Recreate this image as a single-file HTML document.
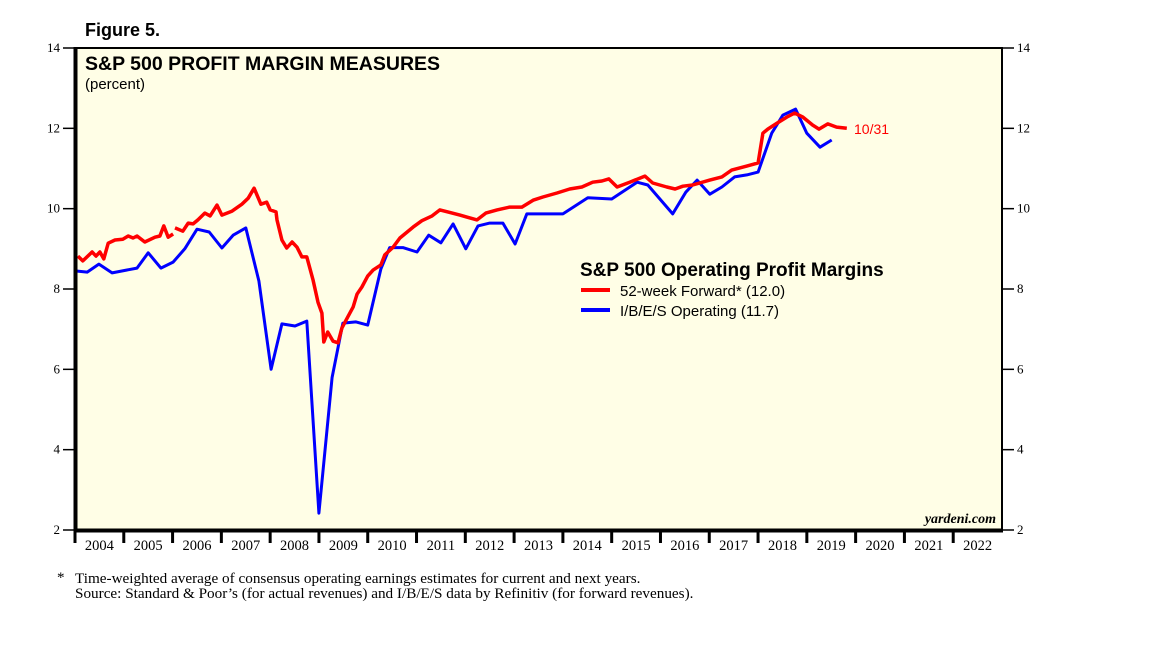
<!DOCTYPE html>
<html><head><meta charset="utf-8"><style>
body{margin:0;background:#fff;width:1152px;height:648px;overflow:hidden}
svg{display:block}
</style></head><body>
<svg id="chart" width="1152" height="648" xmlns="http://www.w3.org/2000/svg">
<rect x="75" y="48" width="927" height="482" fill="#fffee6"/>
<g id="grid"></g>
<g id="series"></g>
<rect x="75" y="48" width="927" height="482" fill="none" stroke="#000" stroke-width="2"/>
<line x1="75.5" y1="47" x2="75.5" y2="531.5" stroke="#000" stroke-width="4"/>
<line x1="74" y1="530.5" x2="1003" y2="530.5" stroke="#000" stroke-width="4"/>
<text x="85" y="36" font-family="Liberation Sans, sans-serif" font-weight="bold" font-size="18">Figure 5.</text>
<text x="85" y="70" font-family="Liberation Sans, sans-serif" font-weight="bold" font-size="19.5">S&amp;P 500 PROFIT MARGIN MEASURES</text>
<text x="85" y="89" font-family="Liberation Sans, sans-serif" font-size="15">(percent)</text>
<g>
<text x="580" y="276" font-family="Liberation Sans, sans-serif" font-weight="bold" font-size="19">S&amp;P 500 Operating Profit Margins</text>
<line x1="581" y1="290" x2="610" y2="290" stroke="#f00" stroke-width="4"/>
<text x="620" y="296" font-family="Liberation Sans, sans-serif" font-size="15">52-week Forward* (12.0)</text>
<line x1="581" y1="310" x2="610" y2="310" stroke="#00f" stroke-width="4"/>
<text x="620" y="316" font-family="Liberation Sans, sans-serif" font-size="15">I/B/E/S Operating (11.7)</text>
</g>
<text x="854" y="134" fill="#f00" font-family="Liberation Sans, sans-serif" font-size="14">10/31</text>
<text x="996" y="523" text-anchor="end" font-family="Liberation Serif, serif" font-style="italic" font-weight="bold" font-size="14">yardeni.com</text>
<text x="57" y="582" font-family="Liberation Serif, serif" font-size="15">*</text>
<text x="75" y="583" font-family="Liberation Serif, serif" font-size="15.2">Time-weighted average of consensus operating earnings estimates for current and next years.</text>
<text x="75" y="598" font-family="Liberation Serif, serif" font-size="15.2">Source: Standard &amp; Poor’s (for actual revenues) and I/B/E/S data by Refinitiv (for forward revenues).</text>
</svg>
<script>
const yTicks=[2,4,6,8,10,12,14];
const years=[2004,2005,2006,2007,2008,2009,2010,2011,2012,2013,2014,2015,2016,2017,2018,2019,2020,2021,2022];
const ibesDates=[2004.00,2004.25,2004.49,2004.76,2005.27,2005.50,2005.76,2006.01,2006.25,2006.50,2006.75,2007.01,2007.24,2007.50,2007.77,2008.02,2008.24,2008.51,2008.75,2009.00,2009.27,2009.49,2009.76,2010.00,2010.27,2010.45,2010.72,2011.01,2011.25,2011.50,2011.75,2012.01,2012.26,2012.50,2012.77,2013.02,2013.26,2014.00,2014.51,2015.00,2015.52,2015.74,2016.25,2016.52,2016.75,2017.01,2017.26,2017.52,2017.77,2018.00,2018.28,2018.51,2018.77,2019.00,2019.27,2019.51];
const ibesValues=[8.45,8.42,8.62,8.40,8.52,8.9,8.52,8.67,9.0,9.49,9.42,9.02,9.34,9.52,8.2,6.0,7.13,7.08,7.2,2.42,5.8,7.15,7.18,7.1,8.5,9.03,9.03,8.92,9.34,9.15,9.62,9.0,9.57,9.64,9.64,9.12,9.87,9.87,10.27,10.24,10.66,10.59,9.87,10.41,10.71,10.36,10.54,10.79,10.84,10.91,11.88,12.33,12.48,11.88,11.53,11.71];
const fwdDates=[2004.06,2004.16,2004.35,2004.43,2004.51,2004.59,2004.68,2004.82,2004.98,2005.09,2005.19,2005.27,2005.43,2005.64,2005.74,2005.82,2005.91,2006.01,null,2006.05,2006.21,2006.32,2006.42,2006.52,2006.66,2006.77,2006.91,2007.01,2007.22,2007.42,2007.55,2007.67,2007.81,2007.93,2008.00,2008.12,2008.14,2008.24,2008.34,2008.45,2008.55,2008.65,2008.75,2008.88,2008.98,2009.06,2009.10,2009.18,2009.29,2009.39,2009.47,2009.59,2009.70,2009.78,2009.88,2010.00,2010.11,2010.27,2010.35,2010.52,2010.66,2010.93,2011.11,2011.32,2011.48,2011.64,2011.89,2012.03,2012.24,2012.42,2012.65,2012.91,2013.16,2013.39,2013.59,2013.88,2014.14,2014.39,2014.61,2014.80,2014.94,2015.11,2015.37,2015.68,2015.84,2016.13,2016.30,2016.46,2016.66,2017.01,2017.26,2017.46,2017.77,2018.00,2018.10,2018.20,2018.39,2018.59,2018.75,2018.92,2019.12,2019.25,2019.43,2019.61,2019.82];
const fwdValues=[8.82,8.7,8.92,8.82,8.92,8.75,9.14,9.22,9.24,9.32,9.27,9.32,9.17,9.29,9.32,9.57,9.29,9.37,null,9.52,9.44,9.64,9.62,9.72,9.89,9.82,10.09,9.84,9.94,10.11,10.26,10.51,10.11,10.16,9.97,9.92,9.72,9.22,9.02,9.17,9.04,8.8,8.8,8.22,7.67,7.4,6.68,6.93,6.7,6.66,7.03,7.3,7.55,7.87,8.05,8.32,8.47,8.6,8.85,9.04,9.27,9.54,9.7,9.82,9.97,9.92,9.84,9.79,9.72,9.89,9.97,10.04,10.04,10.21,10.29,10.39,10.49,10.54,10.66,10.69,10.74,10.54,10.66,10.81,10.64,10.54,10.49,10.56,10.59,10.71,10.79,10.96,11.06,11.14,11.88,11.98,12.13,12.28,12.38,12.28,12.08,11.98,12.11,12.03,12.0];

const NS='http://www.w3.org/2000/svg';
const X0=75,X1=1002,Y0=530,Y1=48;
function xScale(t){return X0+(t-2004)/(2023-2004)*(X1-X0);}
function yScale(v){return Y0-(v-2)/(14-2)*(Y0-Y1);}
const grid=document.getElementById('grid');
const ser=document.getElementById('series');
function mk(tag,attrs,parent){const e=document.createElementNS(NS,tag);for(const k in attrs)e.setAttribute(k,attrs[k]);parent.appendChild(e);return e;}

yTicks.forEach(v=>{
  const y=yScale(v);
  const l=mk('line',{x1:63,x2:75,y1:y,y2:y,stroke:'#000','stroke-width':1.5},grid);
  
  
  const r=mk('line',{x1:1002,x2:1014,y1:y,y2:y,stroke:'#000','stroke-width':1.5},grid);
  
  
  const t=mk('text',{x:60,y:y+4,'text-anchor':'end','font-family':'Liberation Serif, serif','font-size':13},grid);
  t.textContent=v;
  
  
  const t2=mk('text',{x:1017,y:y+4,'font-family':'Liberation Serif, serif','font-size':13},grid);
  t2.textContent=v;
  
  
});
years.forEach(yr=>{
  const x=xScale(yr);
  const l=mk('line',{x1:x,x2:x,y1:530,y2:543,stroke:'#000','stroke-width':3},grid);
  
  
  const t=mk('text',{x:xScale(yr+0.5),y:550,'text-anchor':'middle','font-family':'Liberation Serif, serif','font-size':14.5},grid);
  t.textContent=yr;
  
  
});
function pathFor(ds,vs){
  let d='',pen=false;
  for(let i=0;i<ds.length;i++){
    if(ds[i]===null||vs[i]===null){pen=false;continue;}
    d+=(pen?'L':'M')+xScale(ds[i]).toFixed(1)+' '+yScale(vs[i]).toFixed(1)+' ';
    pen=true;
  }
  return d;
}
const pb=mk('path',{d:pathFor(ibesDates,ibesValues),fill:'none',stroke:'#00f','stroke-width':3,'stroke-linejoin':'round'},ser);


const pr=mk('path',{d:pathFor(fwdDates,fwdValues),fill:'none',stroke:'#f00','stroke-width':3.5,'stroke-linejoin':'round'},ser);


</script>
</body></html>
